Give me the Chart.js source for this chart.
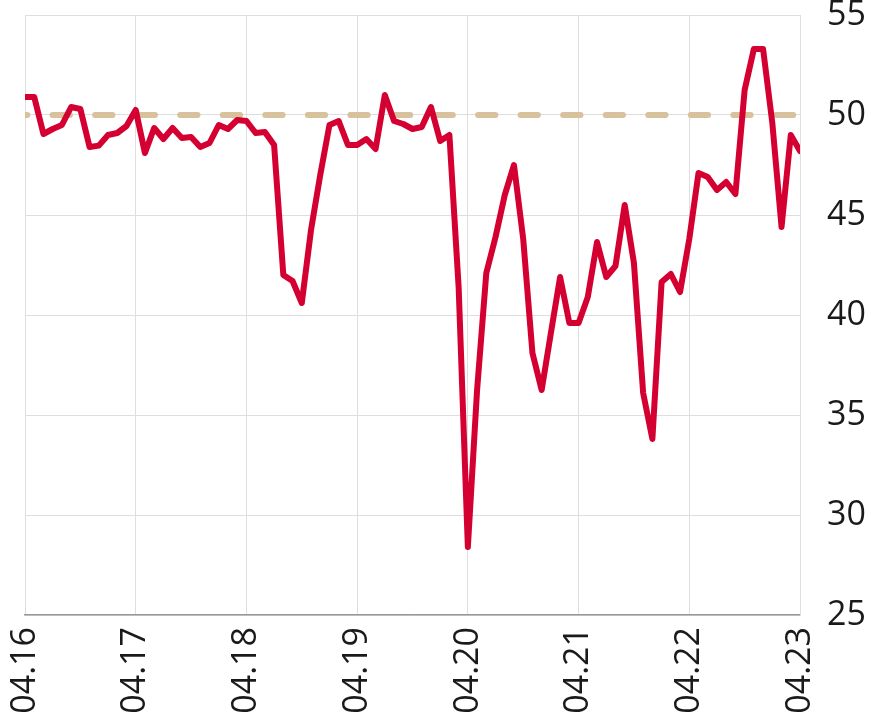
<!DOCTYPE html>
<html>
<head>
<meta charset="utf-8">
<script src="https://cdn.jsdelivr.net/npm/chart.js@4"></script>
<style>
    html, body { margin: 0; padding: 0; background: #fff; }
    #wrap { width: 871px; height: 726px; }
</style>
</head>
<body>
<div id="wrap"><canvas id="plotCanvas"></canvas></div>
<script>
// monthly index values, 04.16 .. 04.23
var indexValues = [
    50.9, 50.9, 49.05, 49.3, 49.5, 50.4, 50.3, 48.4, 48.47, 49.0, 49.1, 49.45, 50.25,
    48.1, 49.35, 48.8, 49.35, 48.85, 48.9, 48.4, 48.6, 49.5, 49.3, 49.75, 49.7,
    49.1, 49.15, 48.5, 42.0, 41.7, 40.6, 44.25, 47.0, 49.5, 49.7, 48.5, 48.5,
    48.8, 48.3, 51.0, 49.7, 49.55, 49.3, 49.4, 50.4, 48.7, 49.0, 41.4, 28.4,
    36.25, 42.1, 43.9, 46.0, 47.5, 43.8, 38.1, 36.25, 39.1, 41.9, 39.6, 39.6,
    40.9, 43.65, 41.9, 42.45, 45.5, 42.6, 36.1, 33.8, 41.65, 42.05, 41.15, 43.8,
    47.1, 46.9, 46.25, 46.65, 46.05, 51.25, 53.3, 53.3, 49.6, 44.4, 49.0, 48.2
];
var thresholdLine = [50, 50];
var tickLabels = ['04.16', '04.17', '04.18', '04.19', '04.20', '04.21', '04.22', '04.23'];
var yTicks = [25, 30, 35, 40, 45, 50, 55];

var lastIndex = indexValues.length - 1;
var ctx = document.getElementById('plotCanvas').getContext('2d');
var tickFont = { family: "'Open Sans', 'Noto Sans', sans-serif", size: 34 };

// keep the plot area where the picture has it, labels may overhang
function noScalePadding(scale) {
    scale.paddingTop = 0;
    scale.paddingBottom = 0;
    scale.paddingLeft = 0;
    scale.paddingRight = 0;
}

var currentChart = new Chart(ctx, {
    type: 'line',
    data: {
        datasets: [{
            label: 'Index',
            data: indexValues.map((value, index) => ({ x: index, y: value })),
            borderColor: 'rgb(213, 0, 50)',
            borderWidth: 6,
            borderJoinStyle: 'round',
            borderCapStyle: 'round',
            pointRadius: 0,
            tension: 0,
            fill: false
        }, {
            label: 'Threshold',
            data: [{ x: 0, y: thresholdLine[0] }, { x: lastIndex, y: thresholdLine[1] }],
            borderColor: 'rgb(216, 193, 157)',
            borderWidth: 6,
            borderDash: [17.3, 25.25],
            borderDashOffset: 15,
            borderCapStyle: 'round',
            pointRadius: 0,
            fill: false
        }]
    },
    options: {
        responsive: true,
        maintainAspectRatio: false,
        animation: false,
        layout: { padding: { left: 25, top: 15, right: 0, bottom: 0 } },
        plugins: {
            legend: { display: false },
            tooltip: { enabled: false }
        },
        scales: {
            x: {
                type: 'linear',
                min: 0,
                max: lastIndex,
                afterBuildTicks: function (scale) {
                    scale.ticks = tickLabels.map((t, i) => ({ value: i * 12 }));
                },
                afterFit: function (scale) {
                    scale.height = 111;
                    noScalePadding(scale);
                },
                ticks: {
                    autoSkip: false,
                    maxRotation: 90,
                    minRotation: 90,
                    padding: 12,
                    color: '#1a1a1a',
                    font: tickFont,
                    callback: function (value) { return tickLabels[value / 12]; }
                },
                grid: { color: '#dedede', lineWidth: 1, drawTicks: false },
                border: { color: '#999', width: 1.5 }
            },
            y: {
                position: 'right',
                min: yTicks[0],
                max: yTicks[yTicks.length - 1],
                afterBuildTicks: function (scale) {
                    scale.ticks = yTicks.map(v => ({ value: v }));
                },
                afterFit: function (scale) {
                    scale.width = 71;
                    noScalePadding(scale);
                },
                ticks: {
                    padding: 27,
                    color: '#1a1a1a',
                    font: tickFont
                },
                grid: { color: '#dedede', lineWidth: 1, drawTicks: false },
                border: { color: '#dedede' }
            }
        }
    }
});
</script>
</body>
</html>
